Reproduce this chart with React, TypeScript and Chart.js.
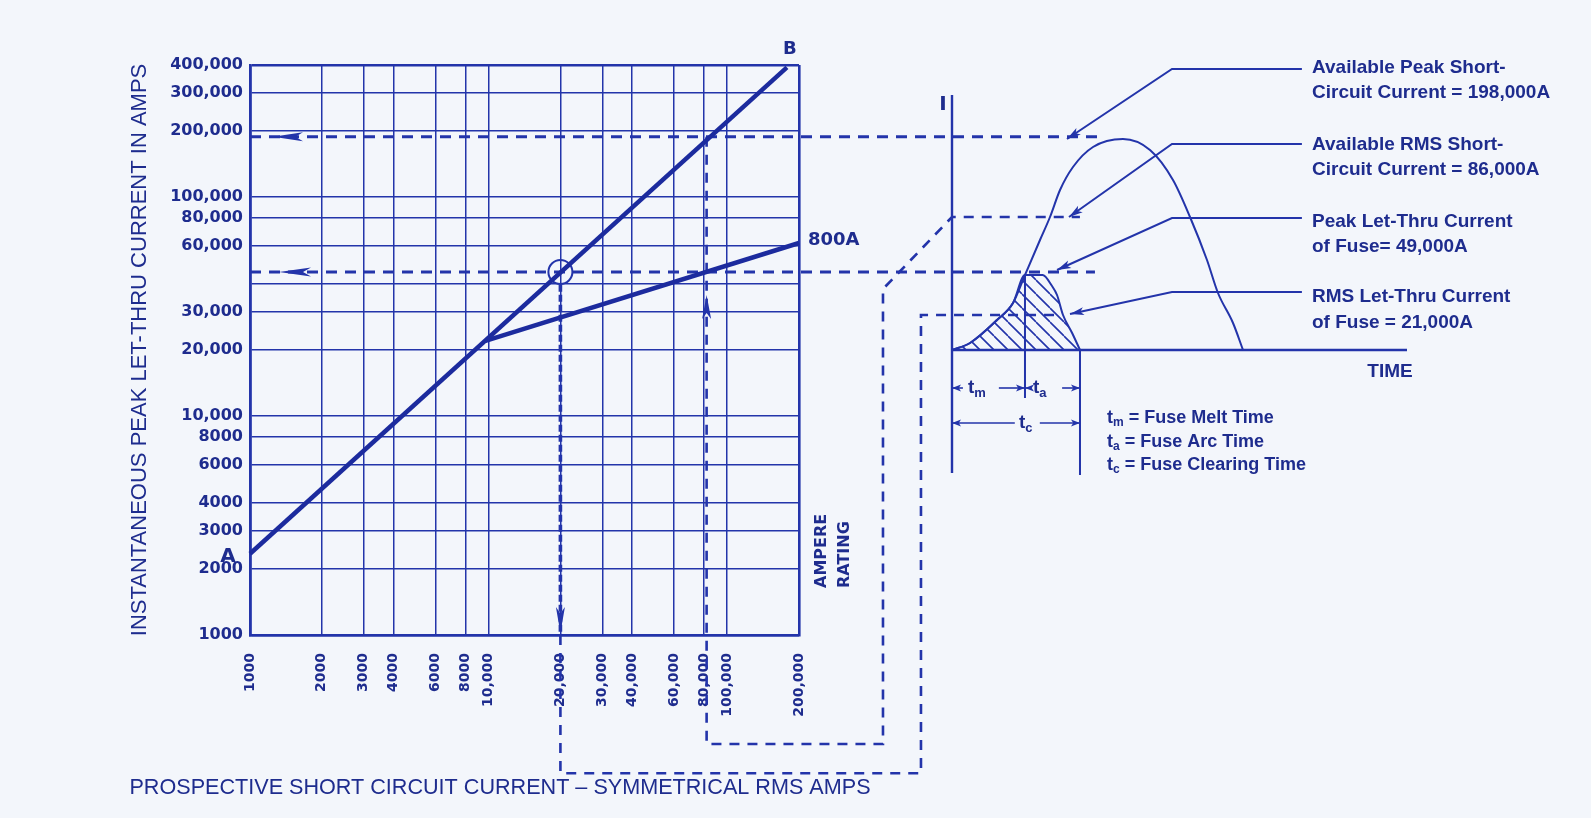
import React, { useEffect, useRef } from 'react';
import { Chart, registerables } from 'chart.js';

Chart.register(...registerables);

const W = 1591;
const H = 818;
const INK = '#1e2c8e';
const BLUE = '#2334aa';
const PAPER = '#f3f6fb';

// ---------- Left chart (log–log) ----------
const xTickValues = [1000, 2000, 3000, 4000, 6000, 8000, 10000, 20000, 30000, 40000, 60000, 80000, 100000, 200000];
const xTickLabels = ['1000', '2000', '3000', '4000', '6000', '8000', '10,000', '20,000', '30,000', '40,000', '60,000', '80,000', '100,000', '200,000'];
const yTickValues = [1000, 2000, 3000, 4000, 6000, 8000, 10000, 20000, 30000, 40000, 60000, 80000, 100000, 200000, 300000, 400000];
const yTickLabels = ['1000', '2000', '3000', '4000', '6000', '8000', '10,000', '20,000', '30,000', '', '60,000', '80,000', '100,000', '200,000', '300,000', '400,000'];

const lineAB = [[1000, 2350], [178000, 390000]];
const fuse800A = [[9700, 22000], [200000, 61600]];
const peakAvailableGuide = [[1000, 188000], [3651000, 188000]];
const rmsAvailableGuide = [[82000, 188000], [82000, 318], [449800, 318], [449800, 37970], [875500, 80950], [3009000, 80950]];
const peakLetThruGuide = [[1000, 45400], [3479000, 45400]];
const rmsLetThruDrop = [[20000, 39700], [20000, 1000]];
const rmsLetThruGuide = [[20000, 1000], [20000, 234], [649000, 234], [649000, 28900], [2412000, 28900]];
const operatingPoint = [[20000, 45400]];
const arrowPeakAvailable = [[1668, 188000], [1248, 188000]];
const arrowPeakLetThru = [[1837, 45400], [1323, 45400]];
const arrowRmsAvailable = [[82000, 27540], [82000, 35700]];
const arrowRmsLetThru = [[20000, 1342], [20000, 1021]];

const yTitle = 'INSTANTANEOUS PEAK LET-THRU CURRENT IN AMPS';
const xTitle = 'PROSPECTIVE SHORT CIRCUIT CURRENT \u2013 SYMMETRICAL RMS AMPS';

// ---------- Right diagram (time waveform, arbitrary units) ----------
const waveT = [0, 0.396, 0.989, 1.341, 1.604, 1.934, 2.154, 2.374, 2.659, 3.099, 3.758, 4.352, 4.857, 5.231, 5.604, 5.846, 6.176, 6.396];
const waveI = [0, 0.7, 3.0, 4.7, 7.5, 11.0, 13.3, 16.0, 18.3, 20.3, 21.1, 20.0, 17.0, 13.3, 9.0, 5.7, 2.7, 0];
const letThruT = [0, 0.396, 0.989, 1.341, 1.604, 1.99, 2.198, 2.308, 2.44, 2.64, 2.813];
const letThruI = [0, 0.7, 3.0, 4.7, 7.5, 7.5, 6.4, 5.5, 3.5, 1.7, 0];
const timeAxis = [[0, 0], [10, 0]];
const currentAxis = [[0, 25.5], [0, -12.3]];
const meltLine = [[1.604, 7.5], [1.604, -4.8]];
const clearLine = [[2.813, 0], [2.813, -12.5]];
const leaderPeakAvailable = [[7.69, 28.1], [4.835, 28.1], [2.527, 21.1]];
const leaderRmsAvailable = [[7.69, 20.6], [4.835, 20.6], [2.571, 13.3]];
const leaderPeakLetThru = [[7.69, 13.2], [4.835, 13.2], [2.308, 8.0]];
const leaderRmsLetThru = [[7.69, 5.8], [4.835, 5.8], [2.593, 3.6]];
const dimMeltLeft = [[0.24, -3.8], [0, -3.8]];
const dimMeltRight = [[1.03, -3.8], [1.604, -3.8]];
const dimArcLeft = [[1.73, -3.8], [1.604, -3.8]];
const dimArcRight = [[2.42, -3.8], [2.813, -3.8]];
const dimClearLeft = [[1.38, -7.3], [0, -7.3]];
const dimClearRight = [[1.93, -7.3], [2.813, -7.3]];

const legendTexts = [
  ['Available Peak Short-', 'Circuit Current = 198,000A'],
  ['Available RMS Short-', 'Circuit Current = 86,000A'],
  ['Peak Let-Thru Current', 'of Fuse= 49,000A'],
  ['RMS Let-Thru Current', 'of Fuse = 21,000A'],
];
const definitions = [
  ['t', 'm', ' = Fuse Melt Time'],
  ['t', 'a', ' = Fuse Arc Time'],
  ['t', 'c', ' = Fuse Clearing Time'],
];

const xy = (arr: number[][]) => arr.map(([x, y]) => ({ x, y }));
const zip = (a: number[], b: number[]) => a.map((v, i) => ({ x: v, y: b[i] }));

const seg = (data: any[], extra: any = {}) => ({
  data,
  borderColor: BLUE,
  borderWidth: 2.5,
  pointRadius: 0,
  fill: false,
  clip: false,
  tension: 0,
  ...extra,
});

const arrowPlugin = {
  id: 'arrowheads',
  afterDatasetsDraw(chart: any) {
    const ctx = chart.ctx;
    chart.data.datasets.forEach((ds: any, i: number) => {
      if (!ds.arrow) return;
      const pts = chart.getDatasetMeta(i).data;
      const n = pts.length;
      if (n < 2) return;
      const tip = pts[n - 1];
      const prev = pts[n - 2];
      const ang = Math.atan2(tip.y - prev.y, tip.x - prev.x);
      const L = ds.arrow.length;
      const hw = ds.arrow.width;
      ctx.save();
      ctx.translate(tip.x, tip.y);
      ctx.rotate(ang);
      ctx.beginPath();
      ctx.moveTo(0, 0);
      ctx.lineTo(-L, -hw);
      ctx.lineTo(-L * 0.75, 0);
      ctx.lineTo(-L, hw);
      ctx.closePath();
      ctx.fillStyle = BLUE;
      ctx.fill();
      ctx.restore();
    });
  },
};

const leftTextPlugin = {
  id: 'leftText',
  afterDraw(chart: any) {
    const c = chart.ctx;
    const xs = chart.scales.x;
    const ys = chart.scales.y;
    c.save();
    c.fillStyle = INK;
    c.textBaseline = 'middle';
    const a = { x: xs.getPixelForValue(lineAB[0][0]), y: ys.getPixelForValue(lineAB[0][1]) };
    const b = { x: xs.getPixelForValue(lineAB[1][0]), y: ys.getPixelForValue(lineAB[1][1]) };
    const f = { x: xs.getPixelForValue(fuse800A[1][0]), y: ys.getPixelForValue(fuse800A[1][1]) };
    c.textAlign = 'center';
    c.font = 'bold 20px "DejaVu Sans", sans-serif';
    c.fillText('A', a.x - 22, a.y + 3);
    c.font = 'bold 18px "DejaVu Sans", sans-serif';
    c.fillText('B', b.x + 3, b.y - 18);
    c.textAlign = 'left';
    c.fillText('800A', f.x + 9, f.y - 3);
    c.font = 'bold 16px "DejaVu Sans", sans-serif';
    c.save();
    c.translate(822, 588);
    c.rotate(-Math.PI / 2);
    c.fillText('AMPERE', 0, 0);
    c.restore();
    c.save();
    c.translate(845, 588);
    c.rotate(-Math.PI / 2);
    c.fillText('RATING', 0, 0);
    c.restore();
    c.font = '21.6px "Liberation Sans", Arial, sans-serif';
    c.textAlign = 'center';
    c.fillText(xTitle, 500, 788);
    c.restore();
  },
};

function subText(c: any, x: number, y: number, base: string, sub: string, rest: string, size: number) {
  c.font = `bold ${size}px "Liberation Sans", Arial, sans-serif`;
  c.fillText(base, x, y);
  let w = c.measureText(base).width;
  c.font = `bold ${Math.round(size * 0.68)}px "Liberation Sans", Arial, sans-serif`;
  c.fillText(sub, x + w, y + size * 0.28);
  w += c.measureText(sub).width;
  c.font = `bold ${size}px "Liberation Sans", Arial, sans-serif`;
  if (rest) c.fillText(rest, x + w, y);
  return w + (rest ? c.measureText(rest).width : 0);
}

const rightTextPlugin = {
  id: 'rightText',
  afterDraw(chart: any) {
    const c = chart.ctx;
    c.save();
    c.fillStyle = INK;
    c.textBaseline = 'middle';
    c.textAlign = 'left';
    c.font = 'bold 19px "Liberation Sans", Arial, sans-serif';
    const rows = [[68, 93], [145, 170], [222, 247], [297, 323]];
    legendTexts.forEach((pair, i) => {
      c.fillText(pair[0], 1312, rows[i][0]);
      c.fillText(pair[1], 1312, rows[i][1]);
    });
    c.textAlign = 'center';
    c.fillText('TIME', 1390, 372);
    c.font = 'bold 20px "DejaVu Sans", sans-serif';
    c.fillText('I', 943, 105);
    c.textAlign = 'left';
    const defY = [418, 442, 465];
    definitions.forEach((d, i) => subText(c, 1107, defY[i], d[0], d[1], d[2], 18));
    const dims = [[968, 388, 'm'], [1033, 388, 'a'], [1019, 423, 'c']];
    dims.forEach(([x, y, s]: any) => subText(c, x, y, 't', s, '', 19));
    c.restore();
  },
};

function hatchPattern(ctx: CanvasRenderingContext2D) {
  const s = 14;
  const cv = document.createElement('canvas');
  cv.width = s;
  cv.height = s;
  const g = cv.getContext('2d') as CanvasRenderingContext2D;
  g.strokeStyle = BLUE;
  g.lineWidth = 1.6;
  g.beginPath();
  for (const k of [-1, 0, 1]) {
    g.moveTo(k * s, 0);
    g.lineTo(k * s + s, s);
  }
  g.stroke();
  return ctx.createPattern(cv, 'repeat');
}

export default function App() {
  const leftRef = useRef<HTMLCanvasElement>(null);
  const rightRef = useRef<HTMLCanvasElement>(null);

  useEffect(() => {
    const gridWidth = (n: number) => (ctx: any) => (ctx.index === 0 || ctx.index === n - 1 ? 2.6 : 1.5);
    const tickFont = (family: string, size: number) => ({ family, weight: 'bold' as const, size });

    const left = new Chart(leftRef.current as HTMLCanvasElement, {
      type: 'line',
      data: {
        datasets: [
          seg(xy(lineAB), { borderWidth: 4.5, borderColor: '#1c2b9e' }),
          seg(xy(fuse800A), { borderWidth: 4.5, borderColor: '#1c2b9e' }),
          seg(xy(peakAvailableGuide), { borderDash: [11, 8], borderWidth: 3 }),
          seg(xy(peakLetThruGuide), { borderDash: [11, 8], borderWidth: 3 }),
          seg(xy(rmsAvailableGuide), { borderDash: [10, 8], borderWidth: 2.6 }),
          seg(xy(rmsLetThruDrop), { borderDash: [7, 3], borderWidth: 3.6 }),
          seg(xy(rmsLetThruGuide), { borderDash: [10, 8], borderWidth: 2.6 }),
          seg(xy(operatingPoint), {
            showLine: false,
            pointRadius: 12,
            pointBorderWidth: 2,
            pointBorderColor: BLUE,
            pointBackgroundColor: 'rgba(0,0,0,0)',
          }),
          seg(xy(arrowPeakAvailable), { showLine: false, arrow: { length: 30, width: 4.5 } }),
          seg(xy(arrowPeakLetThru), { showLine: false, arrow: { length: 32, width: 4.5 } }),
          seg(xy(arrowRmsAvailable), { showLine: false, arrow: { length: 24, width: 4.5 } }),
          seg(xy(arrowRmsLetThru), { showLine: false, arrow: { length: 26, width: 4.5 } }),
        ],
      },
      options: {
        responsive: false,
        animation: false,
        devicePixelRatio: 1,
        events: [],
        layout: { padding: { top: 65, right: W - 799, bottom: 0, left: 0 } },
        plugins: { legend: { display: false }, tooltip: { enabled: false } },
        scales: {
          x: {
            type: 'logarithmic',
            position: 'bottom',
            bounds: 'data',
            afterDataLimits: (s: any) => {
              s.min = xTickValues[0];
              s.max = xTickValues[xTickValues.length - 1];
            },
            afterBuildTicks: (s: any) => {
              s.ticks = xTickValues.map((v) => ({ value: v }));
            },
            afterFit: (s: any) => {
              s.height = H - 635;
            },
            grid: { color: BLUE, lineWidth: gridWidth(xTickValues.length), drawTicks: false },
            border: { color: BLUE, width: 2.6 },
            ticks: {
              autoSkip: false,
              minRotation: 90,
              maxRotation: 90,
              padding: 18,
              color: INK,
              font: tickFont('"DejaVu Sans", sans-serif', 14),
              callback: (_v: any, i: number) => xTickLabels[i],
            },
          },
          y: {
            type: 'logarithmic',
            position: 'left',
            bounds: 'data',
            afterDataLimits: (s: any) => {
              s.min = yTickValues[0];
              s.max = yTickValues[yTickValues.length - 1];
            },
            afterBuildTicks: (s: any) => {
              s.ticks = yTickValues.map((v) => ({ value: v }));
            },
            afterFit: (s: any) => {
              s.width = 250;
            },
            grid: { color: BLUE, lineWidth: gridWidth(yTickValues.length), drawTicks: false },
            border: { color: BLUE, width: 2.6 },
            ticks: {
              autoSkip: false,
              padding: 7,
              color: INK,
              font: tickFont('"DejaVu Sans", sans-serif', 16),
              callback: (_v: any, i: number) => yTickLabels[i],
            },
            title: {
              display: true,
              text: yTitle,
              color: INK,
              font: { family: '"Liberation Sans", Arial, sans-serif', size: 22, weight: 'normal' },
              padding: { top: 127, bottom: 0 },
            },
          },
        },
      } as any,
      plugins: [arrowPlugin, leftTextPlugin],
    });

    const rctx = (rightRef.current as HTMLCanvasElement).getContext('2d') as CanvasRenderingContext2D;
    const right = new Chart(rightRef.current as HTMLCanvasElement, {
      type: 'line',
      data: {
        datasets: [
          seg(zip(letThruT, letThruI), {
            borderWidth: 2,
            cubicInterpolationMode: 'monotone',
            fill: 'origin',
            backgroundColor: hatchPattern(rctx),
          }),
          seg(zip(waveT, waveI), { borderWidth: 2, cubicInterpolationMode: 'monotone' }),
          seg(xy(timeAxis), { borderWidth: 2.4 }),
          seg(xy(currentAxis), { borderWidth: 2.4 }),
          seg(xy(meltLine), { borderWidth: 2 }),
          seg(xy(clearLine), { borderWidth: 2 }),
          seg(xy(leaderPeakAvailable), { borderWidth: 2, arrow: { length: 14, width: 4 } }),
          seg(xy(leaderRmsAvailable), { borderWidth: 2, arrow: { length: 14, width: 4 } }),
          seg(xy(leaderPeakLetThru), { borderWidth: 2, arrow: { length: 14, width: 4 } }),
          seg(xy(leaderRmsLetThru), { borderWidth: 2, arrow: { length: 14, width: 4 } }),
          seg(xy(dimMeltLeft), { borderWidth: 1.6, arrow: { length: 9, width: 3.5 } }),
          seg(xy(dimMeltRight), { borderWidth: 1.6, arrow: { length: 9, width: 3.5 } }),
          seg(xy(dimArcLeft), { borderWidth: 1.6, arrow: { length: 9, width: 3.5 } }),
          seg(xy(dimArcRight), { borderWidth: 1.6, arrow: { length: 9, width: 3.5 } }),
          seg(xy(dimClearLeft), { borderWidth: 1.6, arrow: { length: 9, width: 3.5 } }),
          seg(xy(dimClearRight), { borderWidth: 1.6, arrow: { length: 9, width: 3.5 } }),
        ],
      },
      options: {
        responsive: false,
        animation: false,
        devicePixelRatio: 1,
        events: [],
        layout: { padding: { left: 952, right: W - 1407, top: 95, bottom: H - 475 } },
        plugins: { legend: { display: false }, tooltip: { enabled: false } },
        scales: {
          x: { type: 'linear', display: false, min: 0, max: 10 },
          y: { type: 'linear', display: false, min: -12.5, max: 25.5 },
        },
      } as any,
      plugins: [arrowPlugin, rightTextPlugin],
    });

    return () => {
      left.destroy();
      right.destroy();
    };
  }, []);

  const cv: React.CSSProperties = { position: 'absolute', left: 0, top: 0, width: W, height: H };
  return (
    <div style={{ position: 'absolute', left: 0, top: 0, width: W, height: H, background: PAPER, overflow: 'hidden' }}>
      <canvas ref={leftRef} width={W} height={H} style={cv} />
      <canvas ref={rightRef} width={W} height={H} style={{ ...cv, pointerEvents: 'none' }} />
    </div>
  );
}
